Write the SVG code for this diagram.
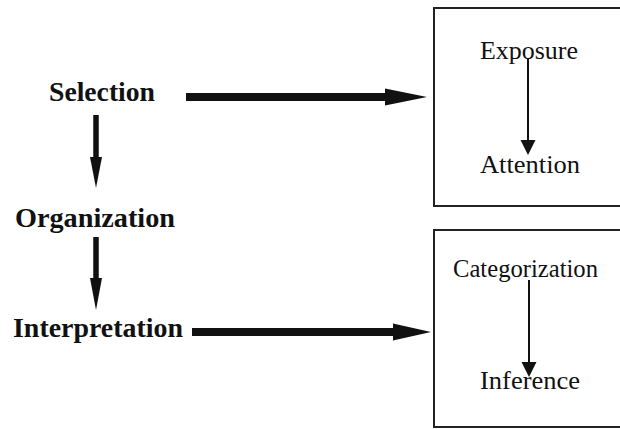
<svg xmlns="http://www.w3.org/2000/svg" width="620" height="429" viewBox="0 0 620 429">
<style>
.bold{font-family:'Liberation Serif','Times New Roman',Times,serif;font-weight:700;font-size:27px;fill:#111}
.reg{font-family:'Liberation Serif','Times New Roman',Times,serif;font-size:25px;fill:#111}
.box{fill:none;stroke:#222;stroke-width:2}
.thick{stroke:#111;stroke-width:8;fill:none}
.mid{stroke:#111;stroke-width:5.5;fill:none}
.thin{stroke:#111;stroke-width:2;fill:none}
.head{fill:#111}
</style>
<rect width="620" height="429" fill="#fff"/>
<g id="selection"><text class="bold" x="49" y="101" textLength="106" lengthAdjust="spacingAndGlyphs">Selection</text></g>
<g id="organization"><text class="bold" x="15" y="227" textLength="160" lengthAdjust="spacingAndGlyphs">Organization</text></g>
<g id="interpretation"><text class="bold" x="13" y="337" textLength="170" lengthAdjust="spacingAndGlyphs">Interpretation</text></g>
<g id="box-top">
<rect class="box" x="434" y="8" width="200" height="198"/>
<text class="reg" x="480" y="59" textLength="98" lengthAdjust="spacingAndGlyphs">Exposure</text>
<text class="reg" x="480" y="173" textLength="100" lengthAdjust="spacingAndGlyphs">Attention</text>
</g>
<g id="box-bottom">
<rect class="box" x="434" y="230" width="200" height="197"/>
<text class="reg" x="453" y="277" textLength="145" lengthAdjust="spacingAndGlyphs">Categorization</text>
<text class="reg" x="480" y="389" textLength="100" lengthAdjust="spacingAndGlyphs">Inference</text>
</g>
<g id="connectors">
<line class="thick" x1="186" y1="97" x2="388" y2="97"/>
<polygon class="head" points="385,88.5 427,97 385,105.5"/>
<line class="thick" x1="192" y1="332" x2="396" y2="332"/>
<polygon class="head" points="393,323.5 431,332 393,340.5"/>
<line class="mid" x1="96" y1="115" x2="96" y2="160"/>
<polygon class="head" points="90,157 102,157 96,188"/>
<line class="mid" x1="96" y1="237" x2="96" y2="281"/>
<polygon class="head" points="90,278 102,278 96,310"/>
<line class="thin" x1="528" y1="59" x2="528" y2="142"/>
<polygon class="head" points="520.5,140 535.5,140 528,155"/>
<line class="thin" x1="529" y1="280" x2="529" y2="364"/>
<polygon class="head" points="521.5,362 536.5,362 529,377"/>
</g>
</svg>
